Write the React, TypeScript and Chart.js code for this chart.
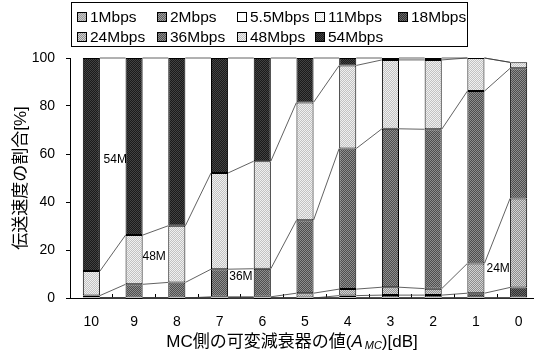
import React, { useEffect, useRef } from 'react';
import { Chart, registerables } from 'chart.js';

Chart.register(...registerables);

// ---- data ----
const categories = ['10', '9', '8', '7', '6', '5', '4', '3', '2', '1', '0'];
const seriesNames = ['1Mbps', '2Mbps', '5.5Mbps', '11Mbps', '18Mbps', '24Mbps', '36Mbps', '48Mbps', '54Mbps'];

const rate1M: (number | null)[] = [null, null, null, null, null, null, null, null, null, null, null];
const rate2M: (number | null)[] = [null, null, null, null, null, null, null, null, null, null, null];
const rate5_5M: (number | null)[] = [null, null, null, null, null, null, null, null, null, null, null];
const rate11M: (number | null)[] = [null, null, null, null, null, null, null, null, null, null, null];
const rate18M: (number | null)[] = [null, null, null, null, null, null, 1, 1.2, 1.2, 2, 4.4];
const rate24M: (number | null)[] = [null, null, null, 0.5, 0.5, 2, 2.7, 3.3, 2.7, 12.4, 37.1];
const rate36M: (number | null)[] = [1, 5.7, 6.5, 11.5, 11.7, 30.4, 58.6, 66, 66.4, 71.8, 54.2];
const rate48M: (number | null)[] = [10.2, 20.5, 23.6, 40.1, 44.8, 49.1, 34.6, 28.7, 28.9, 13.8, 2.5];
const rate54M: (number | null)[] = [88.8, 73.8, 69.9, 47.9, 43, 18.5, 3.1, 0.8, 0.8, null, null];

const yMin = 0;
const yMax = 100;
const yStep = 20;

const noteTexts = ['54M', '48M', '36M', '24M'];
const noteX = [0.56, 1.47, 3.5, 9.52];
const noteY = [57.5, 17.1, 8.9, 12.2];

const yTitle = '伝送速度の割合[%]';
const xTitleParts = ['MC側の可変減衰器の値(', 'A', 'MC', ')[dB]'];

// ---- styles ----
const FONT = '"Liberation Sans", "Noto Sans CJK JP", Arial, sans-serif';
const patternColors: [string, string][] = [
  ['#9a9a9a', '#c8c8c8'],
  ['#5c5c5c', '#a0a0a0'],
  ['#ffffff', '#ffffff'],
  ['#e6e6e6', '#ffffff'],
  ['#303030', '#686868'],
  ['#8e8e8e', '#d2d2d2'],
  ['#4e4e4e', '#8e8e8e'],
  ['#c2c2c2', '#f0f0f0'],
  ['#1a1a1a', '#424242'],
];

function makePattern(ctx: CanvasRenderingContext2D, c1: string, c2: string) {
  const p = document.createElement('canvas');
  p.width = 2;
  p.height = 2;
  const pc = p.getContext('2d')!;
  pc.fillStyle = c1;
  pc.fillRect(0, 0, 2, 2);
  pc.fillStyle = c2;
  pc.fillRect(0, 0, 1, 1);
  pc.fillRect(1, 1, 1, 1);
  return ctx.createPattern(p, 'repeat') as CanvasPattern;
}

export default function App() {
  const ref = useRef<HTMLCanvasElement>(null);

  useEffect(() => {
    const canvas = ref.current!;
    const ctx = canvas.getContext('2d')!;
    const patterns = patternColors.map(([a, b]) => makePattern(ctx, a, b));
    const allSeries = [rate1M, rate2M, rate5_5M, rate11M, rate18M, rate24M, rate36M, rate48M, rate54M];

    const seriesLines = {
      id: 'seriesLines',
      afterDatasetsDraw(chart: any) {
        const c = chart.ctx;
        const ys = chart.scales.y;
        const n = categories.length;
        const geo: { x: number; w: number }[] = [];
        for (let j = 0; j < n; j++) {
          let found = { x: chart.scales.x.getPixelForValue(j), w: 0 };
          for (let d = 0; d < chart.data.datasets.length; d++) {
            const el = chart.getDatasetMeta(d).data[j];
            if (el && isFinite(el.width) && el.width > 0) {
              found = { x: el.x, w: el.width };
              break;
            }
          }
          geo.push(found);
        }
        const cum = new Array(n).fill(0);
        c.save();
        c.strokeStyle = '#3a3a3a';
        c.lineWidth = 0.8;
        c.beginPath();
        chart.data.datasets.forEach((ds: any) => {
          for (let j = 0; j < n; j++) cum[j] += ds.data[j] ?? 0;
          for (let j = 0; j < n - 1; j++) {
            const x1 = geo[j].x + geo[j].w / 2;
            const x2 = geo[j + 1].x - geo[j + 1].w / 2;
            c.moveTo(x1, ys.getPixelForValue(cum[j]));
            c.lineTo(x2, ys.getPixelForValue(cum[j + 1]));
          }
        });
        c.stroke();
        c.restore();
      },
    };

    const extras = {
      id: 'extras',
      afterDraw(chart: any) {
        const c = chart.ctx;
        const xs = chart.scales.x;
        const ys = chart.scales.y;
        const area = chart.chartArea;
        c.save();
        // notes
        c.fillStyle = '#000';
        c.font = `12px ${FONT}`;
        c.textAlign = 'center';
        c.textBaseline = 'middle';
        noteTexts.forEach((t, i) => {
          c.fillText(t, xs.getPixelForValue(noteX[i]), ys.getPixelForValue(noteY[i]));
        });

        // legend
        const lx = area.left + 1;
        c.strokeStyle = '#000';
        c.lineWidth = 1;
        c.strokeRect(lx + 0.5, 2.5, 396, 44);
        const cols = [6, 86, 166, 244, 327];
        const rows = [17, 37];
        c.font = `15.5px ${FONT}`;
        c.textAlign = 'left';
        seriesNames.forEach((name, i) => {
          const col = i < 5 ? i : i - 5;
          const row = i < 5 ? 0 : 1;
          const bx = lx + cols[col];
          const by = rows[row];
          c.fillStyle = chart.data.datasets[i].backgroundColor;
          c.fillRect(bx, by - 5, 10, 10);
          c.strokeStyle = '#000';
          c.strokeRect(bx + 0.5, by - 4.5, 9, 9);
          c.fillStyle = '#000';
          c.fillText(name, bx + 13, by + 1);
        });

        // x title with italic subscript
        const big = `17px ${FONT}`;
        const ital = `italic 17px ${FONT}`;
        const sub = `italic 11px ${FONT}`;
        const fonts = [big, ital, sub, big];
        const dys = [0, 0, 4, 0];
        const widths = xTitleParts.map((t, i) => {
          c.font = fonts[i];
          return c.measureText(t).width + (i === 1 ? 2 : 0);
        });
        const total = widths.reduce((a, b) => a + b, 0);
        let x = area.left + 222 - total / 2;
        const y = 342;
        c.textBaseline = 'middle';
        xTitleParts.forEach((t, i) => {
          c.font = fonts[i];
          c.fillText(t, x, y + dys[i]);
          x += widths[i];
        });
        c.restore();
      },
    };

    const chart = new Chart(ctx, {
      type: 'bar',
      data: {
        labels: categories,
        datasets: allSeries.map((s, i) => ({
          label: seriesNames[i],
          data: s,
          backgroundColor: patterns[i],
          borderColor: '#000',
          borderWidth: 1,
          borderSkipped: false,
          barPercentage: 0.4,
          categoryPercentage: 1,
        })) as any,
      },
      options: {
        animation: false,
        responsive: false,
        devicePixelRatio: 1,
        layout: { padding: { left: 0, top: 58, right: 5, bottom: 0 } },
        plugins: {
          legend: { display: false },
          tooltip: { enabled: false },
        },
        scales: {
          x: {
            stacked: true,
            grid: {
              drawOnChartArea: false,
              drawTicks: true,
              tickLength: -4,
              color: '#000',
              offset: true,
            },
            border: { color: '#000', width: 1 },
            ticks: { color: '#000', font: { family: FONT, size: 14 }, padding: 20, maxRotation: 0 },
            afterFit: (s: any) => {
              s.height = 59;
            },
          },
          y: {
            stacked: true,
            min: yMin,
            max: yMax,
            grid: {
              drawOnChartArea: false,
              drawTicks: true,
              tickLength: 4,
              color: '#000',
            },
            border: { color: '#000', width: 1 },
            ticks: { stepSize: yStep, color: '#000', font: { family: FONT, size: 14 }, padding: 11 },
            title: {
              display: true,
              text: yTitle,
              color: '#000',
              font: { family: FONT, size: 17 },
              padding: { top: 11, bottom: 0 },
            },
            afterFit: (s: any) => {
              s.width = 70;
            },
          },
        },
      },
      plugins: [seriesLines, extras],
    });
    return () => chart.destroy();
  }, []);

  return (
    <div style={{ position: 'fixed', left: 0, top: 0, width: 534, height: 357, overflow: 'hidden', background: '#fff' }}>
      <canvas ref={ref} width={545} height={357} style={{ width: 545, height: 357, display: 'block' }} />
    </div>
  );
}
